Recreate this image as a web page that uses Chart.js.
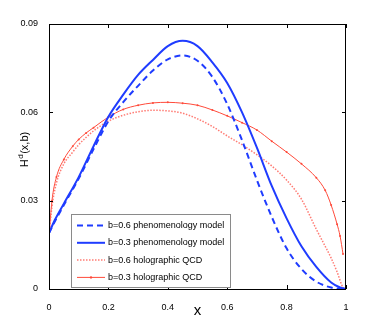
<!DOCTYPE html>
<html>
<head>
<meta charset="utf-8">
<script src="https://cdn.jsdelivr.net/npm/chart.js@4.4.0/dist/chart.umd.min.js"></script>
<style>
  html, body { margin: 0; padding: 0; background: #fff; }
  #wrap { width: 382px; height: 327px; }
</style>
</head>
<body>
<div id="wrap"><canvas id="hChart"></canvas></div>
<script>
// x values shared by the phenomenology curves
const xPhen = [0, 0.02, 0.05, 0.1, 0.15, 0.2, 0.25, 0.3, 0.35, 0.4, 0.45, 0.5, 0.55, 0.6, 0.65, 0.7, 0.75, 0.8, 0.85, 0.9, 0.95, 0.98, 1.0];
const phen06 = [0.019, 0.023, 0.0285, 0.0375, 0.0475, 0.057, 0.0635, 0.069, 0.0742, 0.078, 0.0793, 0.0775, 0.072, 0.0628, 0.0505, 0.037, 0.0245, 0.0138, 0.0068, 0.0025, 0.0005, 0.0001, 0];
const phen03 = [0.019, 0.0235, 0.029, 0.038, 0.0485, 0.0585, 0.066, 0.0727, 0.0778, 0.0825, 0.0843, 0.0825, 0.077, 0.070, 0.060, 0.048, 0.035, 0.024, 0.0145, 0.0075, 0.0022, 0.0005, 0];

// holographic QCD curves
const xHolo06 = [0, 0.01, 0.025, 0.05, 0.08, 0.1, 0.125, 0.15, 0.2, 0.25, 0.3, 0.35, 0.4, 0.45, 0.5, 0.55, 0.6, 0.65, 0.7, 0.75, 0.8, 0.85, 0.9, 0.93, 0.95, 0.97, 0.99, 1.0];
const holo06 = [0.018, 0.028, 0.036, 0.0425, 0.0465, 0.049, 0.0515, 0.0537, 0.057, 0.059, 0.0602, 0.0607, 0.0605, 0.0597, 0.0578, 0.0552, 0.052, 0.049, 0.0456, 0.0418, 0.037, 0.0305, 0.0203, 0.0145, 0.0105, 0.0058, 0.0005, 0];
const xHolo03 = [0, 0.01, 0.025, 0.05, 0.08, 0.1, 0.125, 0.15, 0.2, 0.25, 0.3, 0.35, 0.4, 0.45, 0.5, 0.55, 0.6, 0.65, 0.7, 0.75, 0.8, 0.85, 0.9, 0.93, 0.95, 0.97, 0.98, 0.99];
const holo03 = [0.018, 0.030, 0.038, 0.044, 0.0485, 0.0508, 0.053, 0.0548, 0.0584, 0.061, 0.0624, 0.0632, 0.0634, 0.0631, 0.0624, 0.0608, 0.0588, 0.0565, 0.054, 0.0502, 0.0465, 0.0425, 0.0378, 0.0335, 0.0285, 0.022, 0.018, 0.0119];

const xTicks = [0, 0.2, 0.4, 0.6, 0.8, 1];
const yTicks = [0, 0.03, 0.06, 0.09];

const FONT = "'Liberation Sans', Arial, sans-serif";

function pts(xs, ys) {
    return xs.map((x, i) => ({ x: x, y: ys[i] }));
}

const BLUE = "#1f3cff";
const RED = "#ff4a3a";
const PINK = "rgba(255,100,90,0.85)";

// frame + inward ticks like matlab, and the axis titles
const framePlugin = {
    id: "frame",
    afterDraw(chart) {
        const ctx = chart.ctx, a = chart.chartArea;
        const xs = chart.scales.x, ys = chart.scales.y;
        ctx.save();
        ctx.strokeStyle = "#000";
        ctx.lineWidth = 1;
        ctx.strokeRect(a.left + 0.5, a.top + 0.5, a.right - a.left - 1, a.bottom - a.top);
        ctx.beginPath();
        xTicks.forEach(v => {
            const px = Math.round(xs.getPixelForValue(v)) + 0.5;
            ctx.moveTo(px, a.bottom); ctx.lineTo(px, a.bottom - 4);
            ctx.moveTo(px, a.top); ctx.lineTo(px, a.top + 4);
        });
        yTicks.forEach(v => {
            const py = Math.round(ys.getPixelForValue(v)) + 0.5;
            ctx.moveTo(a.left, py); ctx.lineTo(a.left + 4, py);
            ctx.moveTo(a.right, py); ctx.lineTo(a.right - 4, py);
        });
        ctx.stroke();

        // x label
        ctx.fillStyle = "#000";
        ctx.textAlign = "center";
        ctx.textBaseline = "middle";
        ctx.font = "15px " + FONT;
        ctx.fillText("x", (a.left + a.right) / 2, a.bottom + 22);

        // y label H^d(x,b), rotated
        ctx.translate(a.left - 25, a.top + 126);
        ctx.rotate(-Math.PI / 2);
        ctx.textAlign = "left";
        ctx.textBaseline = "alphabetic";
        ctx.font = "11px " + FONT;
        const wH = ctx.measureText("H").width;
        ctx.font = "8px " + FONT;
        const wD = ctx.measureText("d").width;
        ctx.font = "11px " + FONT;
        const wR = ctx.measureText("(x,b)").width;
        let x0 = -(wH + wD + wR) / 2;
        ctx.fillText("H", x0, 4);
        ctx.font = "8px " + FONT;
        ctx.fillText("d", x0 + wH + 0.5, -1);
        ctx.font = "11px " + FONT;
        ctx.fillText("(x,b)", x0 + wH + wD + 1, 4);
        ctx.restore();
    }
};

// legend inside the axes, lower left
const boxLegend = {
    id: "boxLegend",
    afterDraw(chart) {
        const ctx = chart.ctx, a = chart.chartArea;
        const left = a.left + 22, w = 159, h = 73;
        const top = a.bottom - 2 - h;
        ctx.save();
        ctx.fillStyle = "#fff";
        ctx.fillRect(left, top, w, h);
        ctx.strokeStyle = "#8a8a8a";
        ctx.lineWidth = 1;
        ctx.strokeRect(left + 0.5, top + 0.5, w, h);
        ctx.font = "9px " + FONT;
        ctx.textBaseline = "middle";
        chart.data.datasets.forEach((ds, row) => {
            const y = top + 11.5 + row * 17.3;
            ctx.strokeStyle = ds.borderColor;
            ctx.lineWidth = ds.borderWidth;
            ctx.setLineDash(ds.borderDash || []);
            ctx.beginPath();
            ctx.moveTo(left + 6, y); ctx.lineTo(left + 34, y);
            ctx.stroke();
            ctx.setLineDash([]);
            if (ds.pointRadius) {
                ctx.fillStyle = ds.borderColor;
                ctx.beginPath();
                ctx.arc(left + 20, y, 1.2, 0, Math.PI * 2);
                ctx.fill();
            }
            ctx.fillStyle = "#000";
            ctx.fillText(ds.label, left + 37, y);
        });
        ctx.restore();
    }
};

let ctx = document.getElementById("hChart").getContext("2d");

window.hChart = new Chart(ctx, {
    type: "line",
    data: {
        datasets: [{
            label: "b=0.6 phenomenology model",
            data: pts(xPhen, phen06),
            borderColor: BLUE,
            borderWidth: 2,
            borderDash: [6, 4],
            pointRadius: 0
        }, {
            label: "b=0.3 phenomenology model",
            data: pts(xPhen, phen03),
            borderColor: BLUE,
            borderWidth: 2,
            pointRadius: 0
        }, {
            label: "b=0.6 holographic QCD",
            data: pts(xHolo06, holo06),
            borderColor: PINK,
            borderWidth: 1.5,
            borderDash: [1.5, 1.5],
            pointRadius: 0
        }, {
            label: "b=0.3 holographic QCD",
            data: pts(xHolo03, holo03),
            borderColor: RED,
            borderWidth: 1,
            pointRadius: 1,
            pointBackgroundColor: RED,
            pointBorderWidth: 0
        }]
    },
    options: {
        responsive: true,
        maintainAspectRatio: false,
        animation: false,
        layout: { padding: { top: 24, right: 36, left: 0, bottom: 0 } },
        elements: { line: { cubicInterpolationMode: "monotone", fill: false } },
        plugins: {
            legend: { display: false },
            tooltip: { enabled: false }
        },
        scales: {
            x: {
                type: "linear",
                min: 0,
                max: 1,
                afterFit: s => { s.height = 38; },
                afterBuildTicks: s => { s.ticks = xTicks.map(v => ({ value: v })); },
                grid: { display: false },
                border: { display: false },
                ticks: {
                    color: "#000",
                    padding: 5,
                    maxRotation: 0,
                    font: { family: FONT, size: 9 },
                    callback: v => String(+v.toFixed(2))
                }
            },
            y: {
                min: 0,
                max: 0.09,
                afterFit: s => { s.width = 49; },
                afterBuildTicks: s => { s.ticks = yTicks.map(v => ({ value: v })); },
                grid: { display: false },
                border: { display: false },
                ticks: {
                    color: "#000",
                    padding: 3,
                    font: { family: FONT, size: 9 },
                    callback: v => String(+v.toFixed(2))
                }
            }
        }
    },
    plugins: [framePlugin, boxLegend]
});
</script>
</body>
</html>
